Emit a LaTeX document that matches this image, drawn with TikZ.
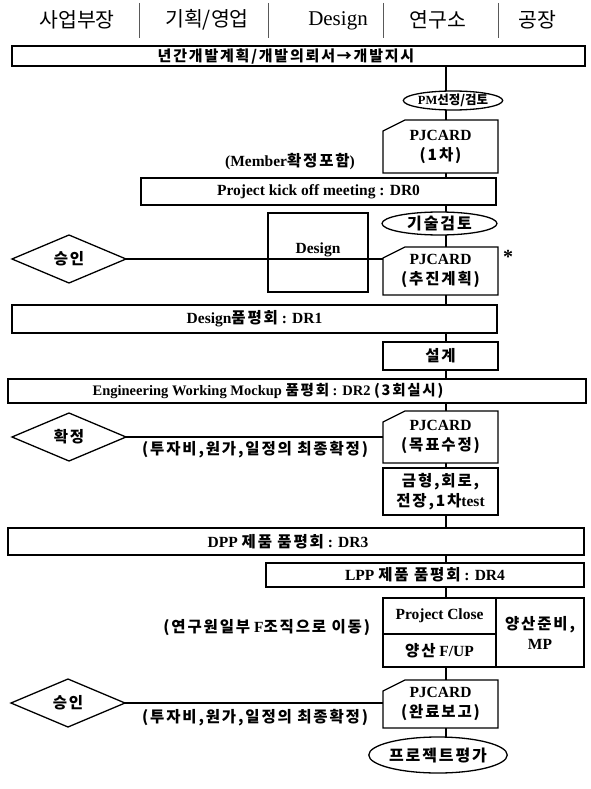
\documentclass[tikz,border=0pt]{standalone}
\usepackage{fontspec}
\setmainfont{Liberation Serif}
\newfontfamily\kr{Noto Sans CJK KR}[LetterSpace=12]
\newfontfamily\krh{Noto Sans CJK KR}
\usetikzlibrary{shapes.geometric}
\newcommand{\K}[1]{{\kr #1}}
\newcommand{\bodyfont}{\fontsize{15.5}{20}\selectfont\bfseries}
\begin{document}
\begin{tikzpicture}[x=1pt,y=-1pt,
  every node/.style={inner sep=0pt, outer sep=0pt},
  bx/.style={draw, line width=1.3pt, rectangle, align=center, font=\bodyfont},
  card/.style={rectangle, minimum width=115pt, align=center, font=\bodyfont},
  ell/.style={ellipse, draw, line width=1.3pt, align=center, font=\bodyfont},
  dia/.style={diamond, draw, line width=1.3pt, aspect=2.4, minimum width=114pt, minimum height=48pt, font=\bodyfont},
  txt/.style={align=center, font=\bodyfont},
  hdr/.style={font=\krh\fontsize{20.5}{24}\selectfont},
  conn/.style={line width=1.3pt},
  sep/.style={line width=0.8pt, black!65},
  cardline/.style={line width=1.3pt}
]
\useasboundingbox (0,0) rectangle (591,789);
\coordinate (cx) at (446,0);

% header
\node[hdr] (h1) at (77,20) {사업부장};
\node[hdr] (h2) at (207,20) {기획/영업};
\node[font=\fontsize{21}{24}\selectfont] (h3) at (338,21) {Design};
\node[hdr] (h4) at (438,20) {연구소};
\node[hdr] (h5) at (537,20) {공장};
\foreach \x in {139,268,383,498} \draw[sep] (\x,3) -- (\x,38);

% main column
\node[bx, minimum width=573pt, minimum height=20pt] (top) at (298.5,56) {};
\node[txt, font=\fontsize{15}{18}\selectfont\bfseries] (toptxt) at (286,56) {\K{년간개발계획/개발의뢰서→개발지시}};

\node[ell, minimum width=80pt, minimum height=19pt, font=\fontsize{12.5}{14}\selectfont\bfseries] (pm) at (453,100.5) {PM{\krh 선정/검토}};

\node[card, minimum height=53pt] (pj1) at (440.5,146.5) {PJCARD\\\K{(1차)}};
\node[txt] (mem) at (290,162) {(Member\K{확정포함})};

\node[bx, minimum width=355pt, minimum height=27pt] (dr0) at (318.5,191.5) {Project kick off meeting : DR0};

\node[ell, minimum width=115pt, minimum height=23pt, font=\fontsize{16}{18}\selectfont\bfseries] (tech) at (439.5,223.5) {\K{기술검토}};

\node[bx, minimum width=100pt, minimum height=79pt] (dsg) at (318,252.5) {};
\node[txt] (dsgtxt) at (318,250) {Design};

\node[card, minimum height=48pt] (pj2) at (440.5,271) {PJCARD\\\K{(추진계획)}};
\node[font=\fontsize{20}{20}\selectfont\bfseries] (star) at (508,257) {*};
\node[dia] (ok1) at (69,259) {\K{승인}};

\node[bx, minimum width=485pt, minimum height=28pt] (dr1) at (254.5,319) {Design\K{품평회} : DR1};

\node[bx, minimum width=115pt, minimum height=28pt] (sg) at (440.5,356) {\K{설계}};

\node[bx, minimum width=578pt, minimum height=24pt] (dr2) at (297,391) {};
\node[txt, font=\fontsize{14.5}{18}\selectfont\bfseries] (dr2txt) at (268,391) {Engineering Working Mockup \K{품평회} : DR2 \K{(3회실시)}};

\node[card, minimum height=52pt] (pj3) at (440.5,437) {PJCARD\\\K{(목표수정)}};
\node[dia] (ok2) at (69,437) {\K{확정}};
\node[txt, anchor=east] (lab1) at (368,450) {\K{(투자비,원가,일정의 최종확정)}};

\node[bx, minimum width=115pt, minimum height=47pt] (mold) at (440.5,491.5) {\K{금형,회로,}\\\K{전장,1차}test};

\node[bx, minimum width=576pt, minimum height=27pt] (dr3) at (296,541.5) {};
\node[txt] (dr3txt) at (288,541.5) {DPP \K{제품 품평회} : DR3};

\node[bx, minimum width=318pt, minimum height=24pt] (dr4) at (425,575) {LPP \K{제품 품평회} : DR4};

\node[bx, minimum width=113pt, minimum height=36pt] (pc) at (439.5,616) {Project Close};
\node[bx, minimum width=113pt, minimum height=33pt] (fup) at (439.5,650.5) {\K{양산} F/UP};
\node[bx, minimum width=88pt, minimum height=69pt] (mp) at (540,632.5) {\K{양산준비,}\\MP};
\node[txt, anchor=east] (lab2) at (370,628) {\K{(연구원일부} F\K{조직으로 이동)}};

\node[card, minimum height=48pt] (pj4) at (440.5,704) {PJCARD\\\K{(완료보고)}};
\node[dia] (ok3) at (68,703) {\K{승인}};
\node[txt, anchor=east] (lab3) at (368,718) {\K{(투자비,원가,일정의 최종확정)}};

\node[ell, minimum width=110pt, minimum height=36pt, font=\fontsize{16}{18}\selectfont\bfseries] (eval) at (438,755) {\K{프로젝트평가}};

% card outlines (cut top-left corner)
\foreach \c in {pj1,pj2,pj3,pj4}
  \draw[cardline] (\c.south west) -- ([yshift=-11pt]\c.north west) -- ([xshift=22pt]\c.north west) -- (\c.north east) -- (\c.south east) -- cycle;

% connectors
\draw[conn] (top.south -| cx) -- (pm.north -| cx);
\draw[conn] (pm.south -| cx) -- (pj1.north -| cx);
\draw[conn] (pj1.south -| cx) -- (dr0.north -| cx);
\draw[conn] (dr0.south -| cx) -- (tech.north -| cx);
\draw[conn] (tech.south -| cx) -- (pj2.north -| cx);
\draw[conn] (pj2.south -| cx) -- (dr1.north -| cx);
\draw[conn] (dr1.south -| cx) -- (sg.north -| cx);
\draw[conn] (sg.south -| cx) -- (dr2.north -| cx);
\draw[conn] (dr2.south -| cx) -- (pj3.north -| cx);
\draw[conn] (pj3.south -| cx) -- (mold.north -| cx);
\draw[conn] (mold.south -| cx) -- (dr3.north -| cx);
\draw[conn] (dr3.south -| cx) -- (dr4.north -| cx);
\draw[conn] (dr4.south -| cx) -- (pc.north -| cx);
\draw[conn] (fup.south -| cx) -- (pj4.north -| cx);
\draw[conn] (pj4.south -| cx) -- (eval.north -| cx);

\draw[conn] (ok1.east) -- (ok1.east -| pj2.west);
\draw[conn] (ok2.east) -- (ok2.east -| pj3.west);
\draw[conn] (ok3.east) -- (ok3.east -| pj4.west);
\end{tikzpicture}
\end{document}
